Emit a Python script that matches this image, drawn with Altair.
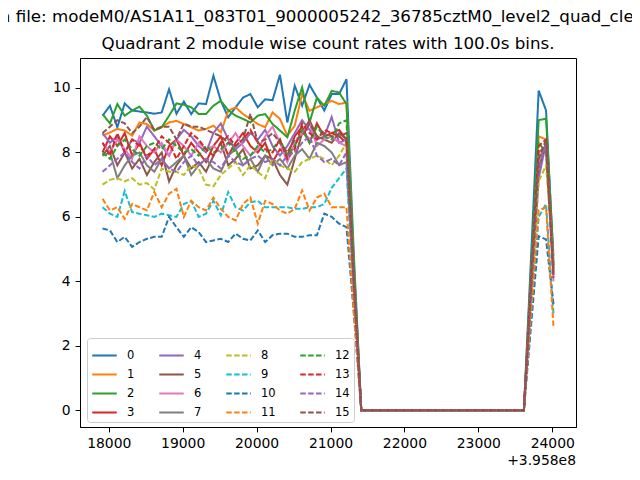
import altair as alt
import pandas as pd

# time offsets (s) relative to 3.958e8, 100 s bins
times = [17916 + 100 * k for k in range(62)]

# module count rates, bins 0..33 (before SAA gap)
m0 = [9.14, 9.45, 8.78, 9.52, 9.30, 9.27, 9.24, 9.20, 9.24, 9.96, 9.20, 9.58, 9.19, 9.52, 9.50, 10.38, 9.60, 9.09, 9.40, 9.70, 9.81, 9.40, 9.65, 9.62, 10.41, 8.93, 10.07, 9.45, 10.10, 9.70, 9.30, 9.81, 9.81, 10.27]
m1 = [8.52, 8.62, 8.73, 8.68, 8.52, 8.93, 8.88, 8.68, 8.78, 8.93, 8.98, 8.88, 8.78, 8.68, 8.73, 8.83, 8.62, 9.29, 9.40, 9.19, 9.04, 8.88, 8.78, 9.24, 9.04, 8.52, 8.83, 9.81, 9.29, 9.40, 9.50, 9.60, 9.50, 9.55]
m2 = [9.19, 8.90, 9.50, 9.14, 9.30, 9.42, 9.14, 8.68, 8.78, 9.14, 9.52, 9.48, 9.40, 9.19, 9.19, 9.45, 9.60, 9.31, 9.14, 9.04, 8.93, 9.14, 9.19, 8.88, 8.68, 8.47, 9.30, 10.02, 8.93, 9.70, 9.45, 9.91, 9.86, 9.50]
m3 = [8.0, 8.5, 8.2, 8.6, 7.9, 8.3, 7.8, 8.1, 7.6, 8.2, 8.4, 7.9, 8.3, 8.0, 7.7, 8.2, 8.5, 7.9, 8.3, 8.6, 8.2, 8.0, 8.3, 7.7, 8.1, 7.9, 8.5, 8.8, 8.3, 8.9, 8.5, 8.6, 8.7, 8.4]
m4 = [8.6, 8.3, 8.5, 8.0, 8.4, 8.3, 8.8, 8.5, 8.2, 7.9, 8.4, 8.7, 8.5, 8.2, 8.0, 8.6, 8.9, 8.4, 8.1, 8.3, 8.6, 8.4, 8.7, 8.2, 7.9, 8.2, 8.6, 9.0, 8.7, 8.4, 8.5, 9.1, 8.3, 8.4]
m5 = [7.9, 8.2, 7.6, 8.0, 7.5, 7.8, 7.3, 7.7, 8.0, 7.1, 7.6, 7.9, 7.5, 7.7, 7.4, 7.9, 8.3, 7.6, 7.8, 8.1, 7.5, 7.6, 7.9, 7.8, 7.3, 7.0, 7.8, 8.6, 9.0, 8.5, 8.4, 8.3, 8.6, 8.4]
m6 = [8.3, 8.0, 8.4, 8.1, 7.8, 8.5, 8.2, 8.0, 8.3, 7.9, 8.4, 8.2, 7.9, 8.3, 8.1, 8.2, 8.0, 8.3, 8.6, 8.2, 7.9, 8.1, 8.5, 8.8, 8.3, 7.7, 8.3, 8.6, 8.9, 8.2, 8.4, 8.5, 8.3, 8.2]
m7 = [7.9, 8.0, 7.2, 7.6, 7.9, 8.0, 7.6, 7.4, 7.8, 7.5, 7.7, 7.9, 7.3, 7.6, 7.8, 7.5, 7.4, 7.9, 8.1, 7.6, 7.8, 7.4, 7.9, 7.6, 7.8, 7.5, 7.9, 8.1, 7.8, 8.3, 8.2, 8.0, 7.6, 7.7]
m8 = [7.0, 7.15, 7.2, 7.1, 7.2, 7.0, 7.05, 6.85, 7.5, 7.4, 7.4, 7.3, 7.6, 7.5, 7.0, 6.95, 7.3, 7.5, 7.7, 7.3, 7.6, 7.4, 7.2, 7.8, 7.6, 7.5, 7.4, 7.7, 7.8, 7.9, 7.8, 7.6, 7.9, 8.3]
m9 = [6.3, 6.1, 6.0, 6.8, 6.15, 6.1, 6.05, 6.0, 6.1, 6.05, 6.0, 6.4, 6.5, 6.0, 6.1, 6.5, 6.05, 6.77, 6.3, 6.2, 6.45, 6.5, 6.3, 6.3, 6.3, 6.3, 6.25, 6.25, 6.3, 6.3, 6.4, 6.9, 7.2, 7.5]
m10 = [5.64, 5.58, 5.22, 5.38, 5.07, 5.22, 5.32, 5.38, 5.38, 6.0, 5.68, 5.38, 5.68, 5.53, 5.22, 5.27, 5.32, 5.22, 5.48, 5.32, 5.27, 5.58, 5.22, 5.43, 5.48, 5.48, 5.38, 5.38, 5.43, 5.43, 6.10, 6.0, 5.79, 5.68]
m11 = [6.56, 6.2, 6.3, 5.94, 6.4, 6.3, 6.2, 6.77, 6.3, 6.72, 6.87, 6.0, 6.5, 6.3, 6.2, 6.6, 6.25, 6.0, 5.89, 6.4, 6.6, 5.79, 6.5, 6.4, 6.2, 6.1, 6.25, 6.82, 6.2, 6.6, 6.72, 6.3, 6.3, 6.3]
m12 = [8.0, 7.8, 8.2, 8.4, 8.1, 7.9, 8.2, 8.3, 8.1, 8.4, 8.2, 8.0, 8.1, 7.9, 8.2, 8.0, 8.1, 8.3, 8.0, 7.8, 7.9, 8.2, 8.0, 8.1, 8.4, 7.9, 8.2, 8.7, 8.3, 8.8, 8.5, 8.4, 8.9, 9.0]
m13 = [8.3, 7.9, 8.6, 8.0, 8.4, 8.2, 7.9, 8.1, 8.5, 8.3, 7.8, 8.2, 8.6, 8.4, 8.1, 7.9, 8.3, 8.5, 8.2, 8.4, 8.7, 8.3, 8.1, 8.0, 8.4, 7.8, 8.1, 8.9, 8.6, 8.4, 8.7, 8.6, 8.5, 8.3]
m14 = [7.4, 7.6, 7.8, 8.0, 7.7, 7.5, 7.9, 7.6, 7.8, 7.5, 7.4, 7.7, 7.9, 7.6, 7.8, 7.7, 7.5, 7.9, 7.7, 7.6, 7.8, 7.9, 7.7, 7.8, 7.6, 7.9, 8.0, 8.3, 8.5, 7.9, 7.7, 7.8, 7.6, 8.0]
m15 = [8.6, 8.8, 9.0, 8.9, 8.6, 8.8, 9.1, 8.7, 8.8, 8.8, 8.4, 8.9, 8.8, 8.8, 8.7, 8.6, 8.5, 8.3, 8.2, 8.4, 9.2, 8.3, 8.4, 8.6, 8.3, 8.0, 8.4, 8.5, 8.9, 8.5, 8.6, 8.5, 8.5, 8.6]

# bin 34 (partial bin before the gap), one value per module 0..15
drop_bin = [4.8, 4.5, 4.5, 4.0, 4.0, 4.0, 3.9, 3.7, 3.9, 3.5, 3.0, 3.0, 4.3, 3.9, 3.8, 4.0]
# bins 35..57 are zero (23 bins)
n_zero = 23
# bins 58..61 after the gap, one value per module 0..15
rise_bin = [4.9, 4.2, 4.5, 4.0, 3.6, 3.7, 4.0, 3.9, 3.5, 3.0, 2.7, 3.1, 4.1, 4.1, 3.7, 3.9]
peak_bin = [9.92, 8.5, 9.0, 8.0, 7.2, 7.5, 8.0, 7.8, 7.1, 6.0, 5.4, 6.2, 8.3, 8.2, 7.5, 7.8]
next_bin = [9.3, 8.4, 9.05, 8.2, 8.3, 8.3, 8.1, 8.2, 7.6, 6.4, 5.3, 6.3, 8.0, 8.4, 8.3, 8.4]
last_bin = [4.6, 4.3, 4.8, 4.5, 4.2, 4.4, 4.0, 4.3, 4.6, 3.0, 3.3, 2.6, 4.5, 4.2, 4.4, 4.1]

series = [m0, m1, m2, m3, m4, m5, m6, m7, m8, m9, m10, m11, m12, m13, m14, m15]
labels = [str(i) for i in range(16)]
tab10 = ["#1f77b4", "#ff7f0e", "#2ca02c", "#d62728", "#9467bd",
         "#8c564b", "#e377c2", "#7f7f7f", "#bcbd22", "#17becf"]

rows = []
for i, s in enumerate(series):
    vals = s + [drop_bin[i]] + [0.0] * n_zero + [rise_bin[i], peak_bin[i], next_bin[i], last_bin[i]]
    for t, v in zip(times, vals):
        rows.append({"time": t, "rate": v, "module": labels[i], "order": i})
df = pd.DataFrame(rows)

color_range = [tab10[i % 10] for i in range(16)]
dash_range = [[1, 0] if i < 8 else [5.5, 2.4] for i in range(16)]

W, H = 496, 369
FONT = "DejaVu Sans"

lines = alt.Chart(df).mark_line(strokeWidth=2, clip=True).encode(
    x=alt.X("time:Q", scale=alt.Scale(domain=[17611, 24321], nice=False, zero=False),
            axis=alt.Axis(values=[18000, 19000, 20000, 21000, 22000, 23000, 24000],
                          format="d", title=None, grid=False)),
    y=alt.Y("rate:Q", scale=alt.Scale(domain=[-0.52, 10.93], nice=False, zero=False),
            axis=alt.Axis(values=[0, 2, 4, 6, 8, 10], title=None, grid=False)),
    color=alt.Color("module:N", scale=alt.Scale(domain=labels, range=color_range),
                    legend=alt.Legend(title=None, orient="none", legendX=7, legendY=280,
                                      columns=4, direction="vertical",
                                      symbolType="stroke", symbolSize=600,
                                      symbolStrokeWidth=2, labelFontSize=11.5,
                                      labelFont=FONT, columnPadding=20, rowPadding=0,
                                      gridAlign="each",
                                      padding=4, strokeColor="#cccccc",
                                      fillColor="rgba(255,255,255,0.8)",
                                      cornerRadius=3, labelOffset=9)),
    strokeDash=alt.StrokeDash("module:N", scale=alt.Scale(domain=labels, range=dash_range),
                              legend=alt.Legend(title=None)),
    detail="module:N",
    order="time:Q",
)

title_df = pd.DataFrame({"t": ["Quadrant 2 module wise count rates with 100.0s bins."]})
title = alt.Chart(title_df).mark_text(fontSize=16.7, font=FONT, color="black",
                                      align="center", baseline="middle").encode(
    text="t:N", x=alt.value(W / 2), y=alt.value(-14))

sup_df = pd.DataFrame({"t": ["Data in file: modeM0/AS1A11_083T01_9000005242_36785cztM0_level2_quad_clean.evt"]})
sup = alt.Chart(sup_df).mark_text(fontSize=16.7, font=FONT, color="black",
                                  align="left", baseline="middle").encode(
    text="t:N", x=alt.value(-130), y=alt.value(-41))

off_df = pd.DataFrame({"t": ["+3.958e8"]})
offset = alt.Chart(off_df).mark_text(fontSize=13.9, font=FONT, color="black",
                                     align="right", baseline="middle").encode(
    text="t:N", x=alt.value(W), y=alt.value(H + 34))

chart = alt.layer(lines, title, sup, offset).properties(
    width=W, height=H,
    autosize=alt.AutoSizeParams(type="none"),
    padding={"left": 72, "top": 50, "right": 56, "bottom": 44},
).configure_view(stroke="black", strokeWidth=1).configure_axis(
    domainColor="black", tickColor="black", labelColor="black",
    labelFontSize=13.9, labelFont=FONT, tickSize=4.9, labelPadding=4.9,
    domainWidth=1, tickWidth=1,
).configure_legend(labelColor="black")

chart.save("out.html", embed_options={"renderer": "svg", "actions": False})
